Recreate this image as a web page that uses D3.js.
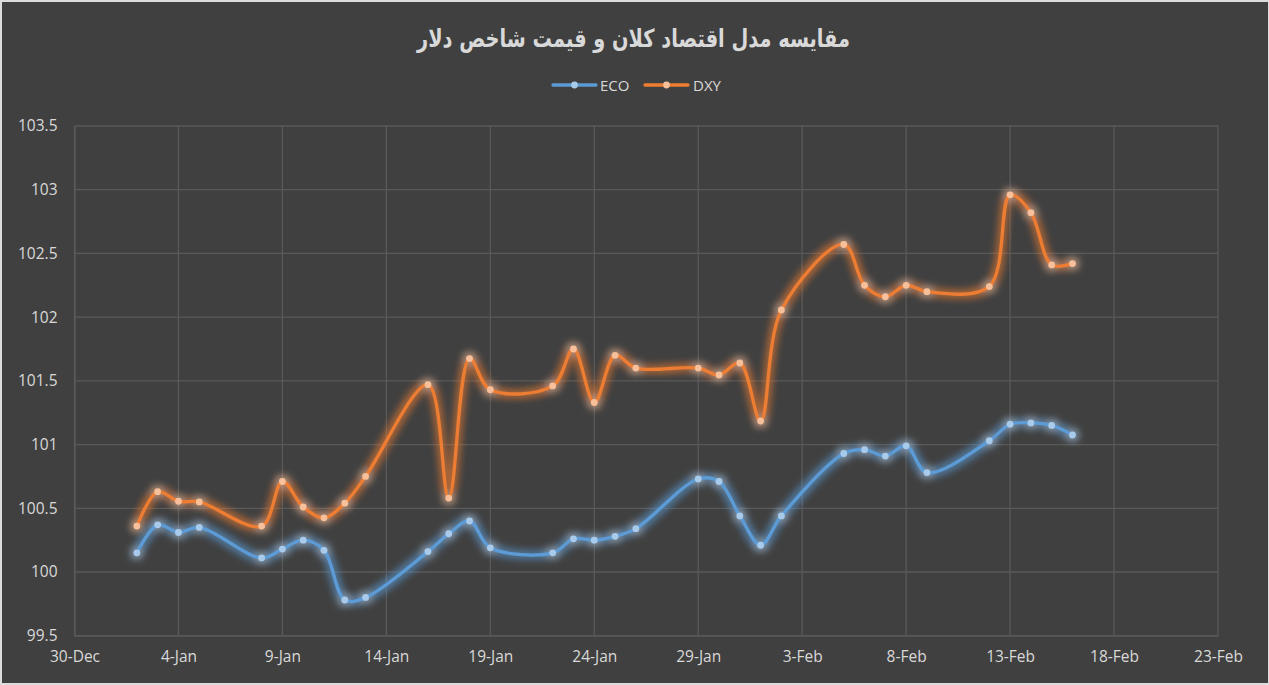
<!DOCTYPE html>
<html><head><meta charset="utf-8">
<script src="https://cdn.jsdelivr.net/npm/d3@7"></script>
<style>body{margin:0;background:#dcdcdc;overflow:hidden}svg{display:block}</style>
</head><body><svg id="c" width="1269" height="685"></svg>
<script>
const titleText = "مقایسه مدل اقتصاد کلان و قیمت شاخص دلار";
const seriesNames = ["ECO", "DXY"];
const dates = ["2024-01-02","2024-01-03","2024-01-04","2024-01-05","2024-01-08","2024-01-09","2024-01-10","2024-01-11","2024-01-12","2024-01-13",
  "2024-01-16","2024-01-17","2024-01-18","2024-01-19","2024-01-22","2024-01-23","2024-01-24","2024-01-25","2024-01-26",
  "2024-01-29","2024-01-30","2024-01-31","2024-02-01","2024-02-02","2024-02-05","2024-02-06","2024-02-07","2024-02-08","2024-02-09",
  "2024-02-12","2024-02-13","2024-02-14","2024-02-15","2024-02-16"];
const eco = [100.15,100.37,100.31,100.35,100.11,100.18,100.25,100.17,99.78,99.80,
  100.16,100.30,100.40,100.19,100.15,100.26,100.25,100.28,100.34,
  100.73,100.71,100.44,100.21,100.44,100.93,100.96,100.91,100.99,100.78,
  101.03,101.16,101.17,101.15,101.075];
const dxy = [100.36,100.63,100.555,100.55,100.36,100.71,100.51,100.425,100.54,100.75,
  101.47,100.58,101.675,101.43,101.46,101.75,101.33,101.70,101.60,
  101.60,101.546,101.64,101.185,102.056,102.57,102.25,102.16,102.25,102.20,
  102.24,102.96,102.82,102.41,102.42];
const xTickLabels = ["30-Dec","4-Jan","9-Jan","14-Jan","19-Jan","24-Jan","29-Jan","3-Feb","8-Feb","13-Feb","18-Feb","23-Feb"];
const xTickYears = [2023,2024,2024,2024,2024,2024,2024,2024,2024,2024,2024,2024];
const yTicks = [99.5,100,100.5,101,101.5,102,102.5,103,103.5];

const colors = {ECO:"#5b9bd5", DXY:"#ed7d31"};
const markerFill = {ECO:"#a9cbeb", DXY:"#f7bf9a"};
const textColor = "#d9d9d9";
const gridColor = "#595959";
const labelFont = "'Open Sans', sans-serif";
const labelSize = "15.5px";

const svg = d3.select("#c");
const W = 1269, H = 685;
svg.append("rect").attr("x",2).attr("y",2).attr("width",W-3).attr("height",H-4).attr("fill","#404040");

const parseTick = d3.timeParse("%d-%b-%Y");
const tickDates = xTickLabels.map((l,i)=>parseTick(l+"-"+xTickYears[i]));
const parseD = d3.timeParse("%Y-%m-%d");
const dd = dates.map(parseD);

const m = {left:74.5, right:1218, top:126, bottom:635.7};
const x = d3.scaleTime().domain([tickDates[0], tickDates[tickDates.length-1]]).range([m.left, m.right]);
const y = d3.scaleLinear().domain([99.5,103.5]).range([m.bottom, m.top]);

// gridlines
const g = svg.append("g");
g.selectAll(".hg").data(yTicks).join("line")
  .attr("x1",m.left).attr("x2",m.right).attr("y1",d=>y(d)).attr("y2",d=>y(d))
  .attr("stroke",gridColor).attr("stroke-width",1.3);
g.selectAll(".vg").data(tickDates).join("line")
  .attr("x1",d=>x(d)).attr("x2",d=>x(d)).attr("y1",m.top).attr("y2",m.bottom)
  .attr("stroke",gridColor).attr("stroke-width",1.3);

// axes
const xAxis = d3.axisBottom(x).tickValues(tickDates).tickSize(0).tickPadding(15)
  .tickFormat((d,i)=>xTickLabels[i]);
const xa = svg.append("g").attr("transform",`translate(0,${m.bottom})`).call(xAxis);
xa.select(".domain").attr("stroke",gridColor).attr("stroke-width",1.3);
xa.selectAll("text").attr("fill",textColor).style("font-family",labelFont).style("font-size",labelSize);

const yAxis = d3.axisLeft(y).tickValues(yTicks).tickSize(0).tickPadding(17).tickFormat(d=>String(d));
const ya = svg.append("g").attr("transform",`translate(${m.left},0)`).call(yAxis);
ya.select(".domain").attr("stroke",gridColor).attr("stroke-width",1.3);
ya.selectAll("text").attr("fill",textColor).style("font-family",labelFont).style("font-size",labelSize);

// glow filters
const defs = svg.append("defs");
seriesNames.forEach(n=>{
  const f = defs.append("filter").attr("id","glow"+n).attr("x","-10%").attr("y","-20%").attr("width","120%").attr("height","140%");
  f.append("feMorphology").attr("in","SourceGraphic").attr("operator","dilate").attr("radius",3).attr("result","d");
  f.append("feGaussianBlur").attr("in","d").attr("stdDeviation",3.6).attr("result","b");
  f.append("feComponentTransfer").attr("in","b").attr("result","bt")
    .append("feFuncA").attr("type","linear").attr("slope",0.6);
  const mg = f.append("feMerge");
  mg.append("feMergeNode").attr("in","bt");
  mg.append("feMergeNode").attr("in","SourceGraphic");
});

const line = d3.line().x(d=>x(d[0])).y(d=>y(d[1])).curve(d3.curveCatmullRom.alpha(0.5));
const seriesVals = {ECO:eco, DXY:dxy};
seriesNames.forEach(n=>{
  const pts = dd.map((d,i)=>[d, seriesVals[n][i]]);
  const sg = svg.append("g").attr("filter",`url(#glow${n})`);
  sg.append("path").datum(pts).attr("d",line).attr("fill","none")
    .attr("stroke",colors[n]).attr("stroke-width",3.3).attr("stroke-linecap","round");
  sg.selectAll("circle").data(pts).join("circle")
    .attr("cx",d=>x(d[0])).attr("cy",d=>y(d[1])).attr("r",3.4)
    .attr("fill",markerFill[n]);
});

// title
svg.append("text").attr("x",633.5).attr("y",47).attr("text-anchor","middle")
  .attr("fill",textColor).style("font-family","'DejaVu Sans', sans-serif").style("font-weight","bold")
  .style("font-size","25px").attr("textLength",433).attr("lengthAdjust","spacingAndGlyphs")
  .text(titleText);

// legend
const legY = 85;
const legItems = [{n:"ECO", x1:553, tx:600},{n:"DXY", x1:645, tx:693}];
legItems.forEach(it=>{
  svg.append("line").attr("x1",it.x1).attr("x2",it.x1+43).attr("y1",legY).attr("y2",legY)
    .attr("stroke",colors[it.n]).attr("stroke-width",3.3).attr("stroke-linecap","round");
  svg.append("circle").attr("cx",it.x1+21.5).attr("cy",legY).attr("r",3.4).attr("fill",markerFill[it.n]);
  svg.append("text").attr("x",it.tx).attr("y",legY+5.5).attr("fill",textColor)
    .style("font-family",labelFont).style("font-size","15px").text(it.n);
});
</script></body></html>
